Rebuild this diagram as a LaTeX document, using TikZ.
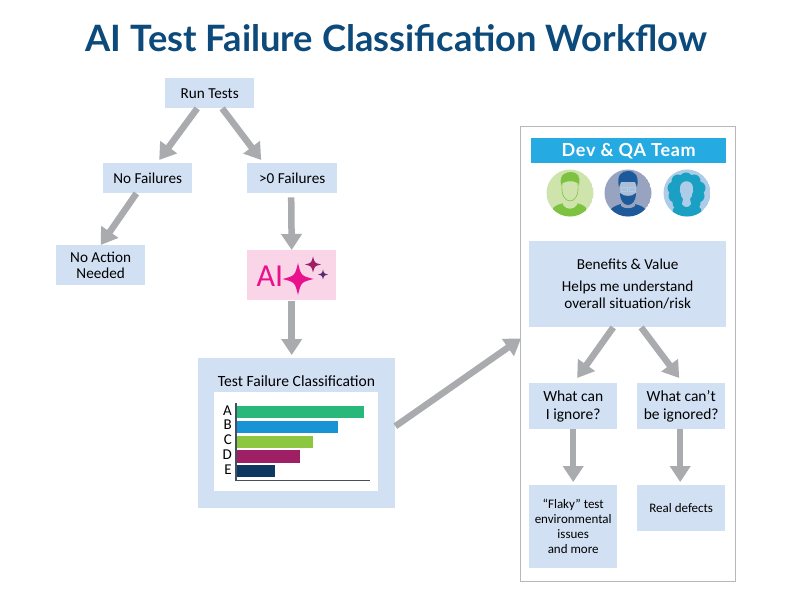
\documentclass[tikz,border=0pt]{standalone}
\usepackage{fontspec}
\setmainfont{Carlito}
\newfontfamily\titlefont{Lato}
\newfontfamily\teamfont[LetterSpace=4]{Lato}
\usetikzlibrary{arrows.meta}
\definecolor{boxblue}{HTML}{D2E0F3}
\definecolor{arrowgray}{HTML}{A9ABAE}
\definecolor{titleblue}{HTML}{0B4A7A}
\definecolor{aipink}{HTML}{F9D5E7}
\definecolor{hotpink}{HTML}{E9128C}
\definecolor{plum}{HTML}{9E2064}
\definecolor{deepplum}{HTML}{5A2A6E}
\definecolor{teamblue}{HTML}{25AAE2}
\definecolor{barA}{RGB}{39,184,122}
\definecolor{barB}{RGB}{24,147,212}
\definecolor{barC}{RGB}{141,198,63}
\definecolor{barD}{RGB}{158,31,99}
\definecolor{barE}{RGB}{15,56,96}
\definecolor{axisgray}{RGB}{70,78,100}
\definecolor{avgreenbg}{RGB}{207,228,172}
\definecolor{avgreen}{RGB}{125,195,65}
\definecolor{avslate}{RGB}{152,163,191}
\definecolor{avnavy}{RGB}{28,90,155}
\definecolor{avface}{RGB}{170,190,215}
\definecolor{avsky}{RGB}{173,204,232}
\definecolor{avteal}{RGB}{25,160,195}
\tikzset{
  box/.style={fill=boxblue,draw=none,inner sep=0pt,align=center,font=\fontsize{15.2}{17}\selectfont,text=black},
  flow/.style={draw=arrowgray,line width=6.5pt,-{Triangle[length=16pt,width=20pt]}},
}
\newcommand{\sparkle}[5]{\fill[#5] (#1,#2-#4) .. controls (#1+0.2*#3,#2-0.2*#4) .. (#1+#3,#2) .. controls (#1+0.2*#3,#2+0.2*#4) .. (#1,#2+#4) .. controls (#1-0.2*#3,#2+0.2*#4) .. (#1-#3,#2) .. controls (#1-0.2*#3,#2-0.2*#4) .. (#1,#2-#4) -- cycle;}
\begin{document}
\begin{tikzpicture}[x=1pt,y=-1pt]
\useasboundingbox (0,0) rectangle (792,612);
\fill[white] (0,0) rectangle (792,612);
\node[text=titleblue,font=\titlefont\bfseries\fontsize{36.3}{40}\selectfont,inner sep=0pt] (title) at (396.5,38) {AI Test Failure Classification Workflow};

\node[draw=arrowgray!85,line width=1.2pt,fill=white,minimum width=215pt,minimum height=455pt,anchor=north west,inner sep=0pt] (panel) at (520,126) {};

\node[box,minimum width=89pt,minimum height=30pt,anchor=north west] (run) at (165,78) {Run Tests};
\node[box,minimum width=89pt,minimum height=30pt,anchor=north west] (nofail) at (103,163) {No Failures};
\node[box,minimum width=90pt,minimum height=30pt,anchor=north west] (somefail) at (247,163) {>0 Failures};
\node[box,minimum width=89pt,minimum height=40pt,anchor=north west] (noaction) at (56,245) {No Action\\[-1pt]Needed};
\node[fill=aipink,minimum width=89pt,minimum height=50pt,anchor=north west,inner sep=0pt] (ai) at (247,250) {};
\node[text=hotpink,font=\fontsize{32}{34}\selectfont,inner sep=0pt] (ailabel) at (270,276) {AI};
\sparkle{298}{279}{15.5}{16}{hotpink}
\sparkle{313}{264.5}{8}{8}{plum}
\sparkle{323}{274.5}{5}{5}{deepplum}

\node[fill=boxblue,minimum width=197pt,minimum height=150pt,anchor=north west,inner sep=0pt] (tfc) at (198,358) {};
\node[font=\fontsize{15.6}{18}\selectfont,inner sep=0pt] (tfclabel) at (296.5,381) {Test Failure Classification};
\node[fill=white,minimum width=164pt,minimum height=99pt,anchor=north west,inner sep=0pt] (chart) at (214,392) {};
\fill[barA] (237,406) rectangle (364,418);
\fill[barB] (237,421) rectangle (338,433);
\fill[barC] (237,436) rectangle (313,448);
\fill[barD] (237,450) rectangle (300,463);
\fill[barE] (237,465) rectangle (275,477);
\draw[axisgray,line width=1.1pt] (236,403) -- (236,480.5) -- (370,480.5);
\foreach \l/\y in {A/411,B/425,C/440,D/455,E/470}
  \node[font=\fontsize{15}{16}\selectfont,inner sep=0pt,anchor=east] (lab\l) at (232,\y) {\l};

\node[fill=teamblue,minimum width=195pt,minimum height=25pt,anchor=north west,inner sep=0pt,text=white,font=\teamfont\bfseries\fontsize{18}{20}\selectfont] (team) at (531,138) {Dev \& QA Team};

% avatars
\begin{scope}
\clip (570,193) circle (23.5);
\fill[avgreenbg] (570,193) circle (23.5);
\fill[avgreen] (553,217) -- (553,208) .. controls (556,205) and (560,204) .. (564,203) -- (576,203) .. controls (580,204) and (584,205) .. (586,208) -- (586,217) -- cycle;
\fill[avgreenbg] (563,200) -- (577,200) -- (577,205) .. controls (573,210) and (567,210) .. (563,205) -- cycle;
\fill[avgreen] (561,185) .. controls (559,174) and (566,172) .. (571,172) .. controls (577,172) and (581,176) .. (579,185) .. controls (577,180) and (564,180) .. (561,185) -- cycle;
\draw[avgreen,line width=.6pt] (562,184) .. controls (561,195) and (565,201) .. (570,201) .. controls (575,201) and (579,195) .. (578,184);
\end{scope}
\begin{scope}
\clip (628,193) circle (23.5);
\fill[avslate] (628,193) circle (23.5);
\fill[avnavy] (610,217) -- (611,209) .. controls (614,206) and (618,205) .. (621,204) -- (635,204) .. controls (638,205) and (643,206) .. (645,209) -- (646,217) -- cycle;
\fill[avslate] (621,203) -- (635,203) -- (635,206) .. controls (631,209) and (625,209) .. (621,206) -- cycle;
\fill[avface] (620,180) -- (636,180) -- (636,196) .. controls (634,203) and (622,203) .. (620,196) -- cycle;
\fill[avnavy] (619,187) .. controls (616,175) and (622,171) .. (628,171) .. controls (636,171) and (639,177) .. (637,187) -- (635,182) -- (621,182) -- cycle;
\fill[avnavy] (620,193) .. controls (624,197) and (632,197) .. (636,193) .. controls (636,201) and (632,205) .. (628,205) .. controls (624,205) and (620,201) .. (620,193) -- cycle;
\draw[avsky,line width=.6pt] (621,187) rectangle (627,191) (629,187) rectangle (635,191);
\end{scope}
\begin{scope}
\clip (687,193) circle (23.5);
\fill[avsky] (687,193) circle (23.5);
\foreach \hx/\hy in {686/179,678/181,694/181,674/188,699/188,675/196,698/196,679/203,694/203,686/186}
  \fill[avteal] (\hx,\hy) circle (6.5);
\fill[avteal] (672,217) -- (673,209) .. controls (676,206) and (679,205) .. (682,204) -- (692,204) .. controls (695,205) and (699,206) .. (701,209) -- (702,217) -- cycle;
\fill[avsky] (680,188) .. controls (680,179) and (693,179) .. (693,188) .. controls (693,194) and (691,197) .. (690,199) -- (691,204) .. controls (689,208) and (684,208) .. (682,204) -- (683,199) .. controls (682,197) and (680,194) .. (680,188) -- cycle;
\end{scope}

\node[box,minimum width=197pt,minimum height=86pt,anchor=north west] (benefits) at (529,241) {Benefits \& Value\\[5pt]Helps me understand\\overall situation/risk};
\node[box,minimum width=88pt,minimum height=46pt,anchor=north west,font=\fontsize{15.5}{18}\selectfont] (can) at (529,383) {What can\\I ignore?};
\node[box,minimum width=88pt,minimum height=46pt,anchor=north west,font=\fontsize{15.5}{18}\selectfont] (cant) at (637,383) {What can’t\\be ignored?};
\node[box,minimum width=88pt,minimum height=83pt,anchor=north west,font=\fontsize{13}{15}\selectfont] (flaky) at (529,485) {“Flaky” test\\environmental\\issues\\and more};
\node[box,minimum width=88pt,minimum height=46pt,anchor=north west,font=\fontsize{13}{15}\selectfont] (real) at (637,485) {Real defects};

\draw[flow] ([xshift=-12.5pt]run.south) -- ([xshift=11.5pt,yshift=3pt]nofail.north);
\draw[flow] ([xshift=12.5pt]run.south) -- ([xshift=-31pt,yshift=3pt]somefail.north);
\draw[flow] ([xshift=-56pt]nofail.south east) -- (noaction.north);
\draw[flow] ([yshift=-4pt,xshift=-1pt]somefail.south) -- (ai.north);
\draw[flow] ([yshift=-1pt]ai.south) -- ([yshift=3pt,xshift=-5pt]tfc.north);
\draw[flow] ([yshift=7pt]tfc.east) -- ([xshift=-8pt,yshift=-11pt]benefits.south west);
\draw[flow] ([xshift=-14.5pt]benefits.south) -- ([xshift=4pt,yshift=5pt]can.north);
\draw[flow] ([xshift=13.5pt]benefits.south) -- ([xshift=-2pt,yshift=5pt]cant.north);
\draw[flow] (can.south) -- ([yshift=3pt]flaky.north);
\draw[flow] ([xshift=-1pt]cant.south) -- ([xshift=-1pt,yshift=3pt]real.north);
\end{tikzpicture}
\end{document}
